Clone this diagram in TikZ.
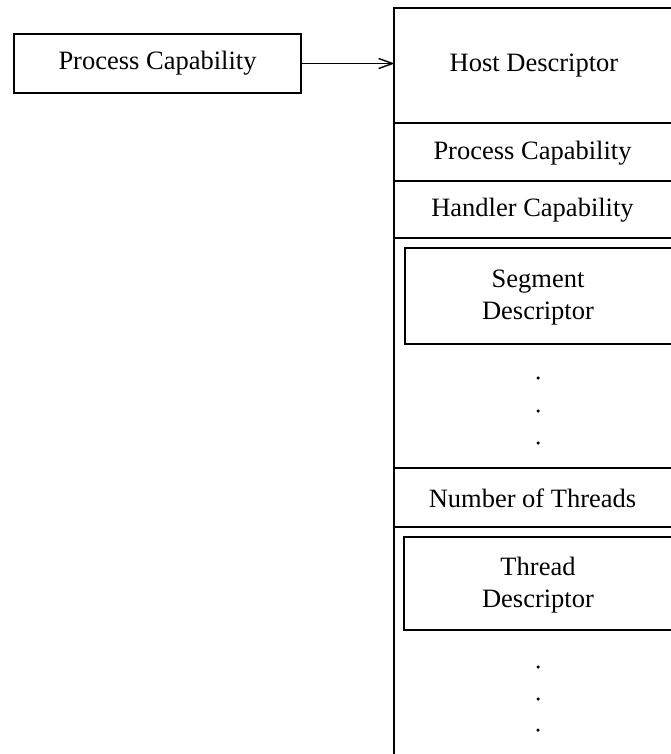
\documentclass[tikz,border=0pt]{standalone}
\usepackage{fontspec}
\setmainfont{Liberation Serif}
\usetikzlibrary{arrows.meta}
\begin{document}
\begin{tikzpicture}[x=1pt,y=-1pt,
  line width=1.6pt,
  every node/.style={font=\fontsize{26.5}{32}\selectfont, inner sep=0pt, align=center},
  field/.style={minimum width=277pt},
  dotmark/.style={fill=black, circle, inner sep=0pt, minimum size=3.5pt}]
  \useasboundingbox (0,0) rectangle (671,754);

  % pointer box on the left
  \node[draw, minimum width=287pt, minimum height=59pt] (pc) at (157.5,63.5) {Process Capability};

  % descriptor column (open at the right and at the bottom)
  \draw (671,8) -- (394,8) -- (394,754);
  \foreach \y in {123,181,238,468,527} \draw (394,\y) -- (671,\y);

  % nested descriptor boxes
  \draw (671,248) -- (405,248) -- (405,344) -- (671,344);
  \draw (671,537) -- (404,537) -- (404,630) -- (671,630);

  % field labels
  \node[field, minimum height=115pt] (host) at (534,66) {Host Descriptor};
  \node (proc) at (532.5,153) {Process Capability};
  \node (hand) at (532.5,210.5) {Handler Capability};
  \node (seg) at (538,298) {Segment\\Descriptor};
  \node (nthr) at (532.5,498.5) {Number of Threads};
  \node (thr) at (538,585) {Thread\\Descriptor};

  % ellipses
  \foreach \y [count=\i] in {378,411,443} \node[dotmark] (sd\i) at (538,\y) {};
  \foreach \y [count=\i] in {667,699,730} \node[dotmark] (td\i) at (538,\y) {};

  % pointer arrow
  \draw[-{Straight Barb[length=14pt,width=10pt,line width=1.4pt]}, line width=1.4pt]
    (pc.east) -- (pc.east -| host.west);
\end{tikzpicture}
\end{document}
